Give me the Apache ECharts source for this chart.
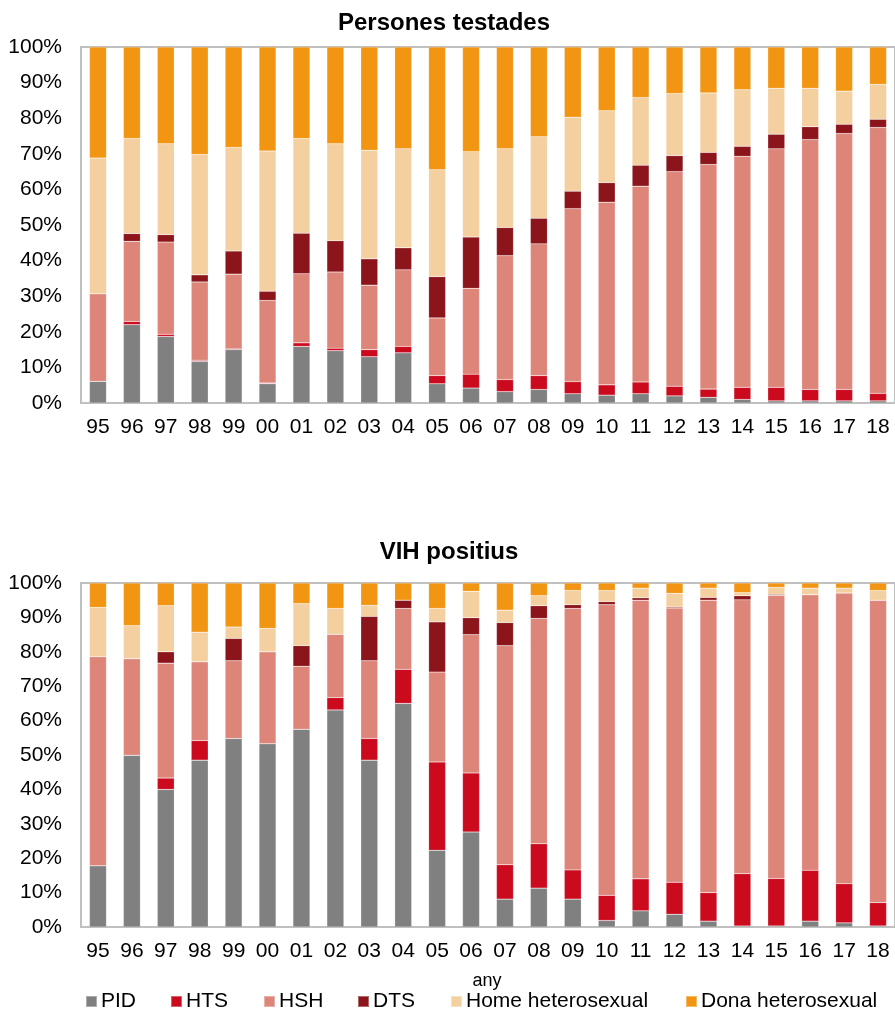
<!DOCTYPE html>
<html>
<head>
<meta charset="utf-8">
<script src="https://cdn.jsdelivr.net/npm/echarts@6/dist/echarts.min.js"></script>
<style>
  html, body {margin: 0; padding: 0; background: #fff;}
  #chart {width: 895px; height: 1012px;}
</style>
</head>
<body>
<div id="chart"></div>
<script>
var years = ['95','96','97','98','99','00','01','02','03','04','05','06','07','08','09','10','11','12','13','14','15','16','17','18'];
var yTicks = [0, 10, 20, 30, 40, 50, 60, 70, 80, 90, 100];
var groupNames = ['PID', 'HTS', 'HSH', 'DTS', 'Home heterosexual', 'Dona heterosexual'];
var groupColors = ['#808080', '#cc0a1e', '#de857a', '#8b151b', '#f4cfa0', '#f29513'];

// Persones testades (%)
var testPID  = [6.1, 22.0, 18.7, 11.7, 15.0, 5.4, 15.9, 14.7, 13.0, 14.1, 5.4, 4.2, 3.2, 3.8, 2.6, 2.2, 2.6, 2.0, 1.6, 1.0, 0.6, 0.6, 0.6, 0.6];
var testHTS  = [0.0, 0.9, 0.6, 0.3, 0.2, 0.2, 1.0, 0.7, 2.0, 1.8, 2.3, 3.9, 3.4, 3.9, 3.4, 2.9, 3.3, 2.7, 2.3, 3.4, 3.8, 3.2, 3.2, 2.1];
var testHSH  = [24.6, 22.5, 25.9, 22.0, 21.0, 23.2, 19.4, 21.4, 18.1, 21.5, 16.2, 24.1, 34.8, 37.0, 48.6, 51.3, 55.0, 60.3, 63.1, 64.9, 67.0, 70.2, 71.9, 74.7];
var testDTS  = [0.0, 2.2, 2.1, 2.0, 6.5, 2.6, 11.4, 8.8, 7.4, 6.2, 11.6, 14.4, 7.9, 7.2, 4.9, 5.5, 5.9, 4.5, 3.4, 2.8, 4.1, 3.6, 2.6, 2.3];
var testHome = [38.1, 26.7, 25.5, 33.8, 29.1, 39.4, 26.6, 27.2, 30.5, 27.8, 30.0, 24.0, 22.1, 22.9, 20.8, 20.2, 19.0, 17.4, 16.7, 15.9, 12.9, 10.8, 9.3, 9.8];
var testDona = [31.2, 25.7, 27.2, 30.2, 28.2, 29.2, 25.7, 27.2, 29.0, 28.6, 34.5, 29.4, 28.6, 25.2, 19.7, 17.9, 14.2, 13.1, 12.9, 12.0, 11.6, 11.6, 12.4, 10.5];

// VIH positius (%)
var posPID  = [17.8, 49.9, 40.0, 48.5, 54.8, 53.3, 57.5, 63.1, 48.5, 65.0, 22.3, 27.6, 8.1, 11.3, 8.1, 1.9, 4.7, 3.7, 1.7, 0.3, 0.3, 1.7, 1.2, 0.3];
var posHTS  = [0.0, 0.0, 3.3, 5.7, 0.0, 0.0, 0.0, 3.6, 6.3, 9.9, 25.7, 17.2, 10.0, 12.9, 8.5, 7.3, 9.3, 9.3, 8.3, 15.2, 13.8, 14.8, 11.4, 6.8];
var posHSH  = [60.8, 28.1, 33.4, 22.9, 22.6, 26.7, 18.3, 18.4, 22.6, 17.7, 26.1, 40.2, 63.7, 65.5, 76.0, 84.5, 81.0, 79.7, 85.0, 79.6, 82.3, 80.1, 84.5, 87.9];
var posDTS  = [0.0, 0.0, 3.3, 0.0, 6.5, 0.0, 6.0, 0.0, 12.9, 2.4, 14.6, 4.9, 6.7, 3.7, 1.1, 0.9, 0.7, 0.3, 0.8, 1.2, 0.3, 0.0, 0.0, 0.0];
var posHome = [14.3, 9.6, 13.4, 8.6, 3.3, 6.8, 12.2, 7.5, 3.2, 0.0, 3.9, 7.7, 3.6, 2.9, 4.1, 3.2, 2.8, 4.0, 2.7, 0.9, 2.0, 1.9, 1.4, 2.8];
var posDona = [7.1, 12.4, 6.6, 14.3, 12.8, 13.2, 6.0, 7.4, 6.5, 5.0, 7.4, 2.4, 7.9, 3.7, 2.2, 2.2, 1.5, 3.0, 1.5, 2.8, 1.3, 1.5, 1.5, 2.2];

var testData = [testPID, testHTS, testHSH, testDTS, testHome, testDona];
var posData = [posPID, posHTS, posHSH, posDTS, posHome, posDona];

var fontFamily = "'Liberation Sans', Arial, sans-serif";
var myChart = echarts.init(document.getElementById('chart'));

function makeSeries(dataList, idx, stackName) {
  return dataList.map(function (d, i) {
    return {
      name: groupNames[i],
      type: 'bar',
      stack: stackName,
      xAxisIndex: idx,
      yAxisIndex: idx,
      barWidth: 17,
      color: groupColors[i],
      itemStyle: {borderColor: 'rgba(255,255,255,0.35)', borderWidth: 0.5},
      data: d
    };
  });
}

function xAxisFor(idx) {
  return {
    type: 'category',
    gridIndex: idx,
    data: years,
    axisLine: {show: false},
    axisTick: {show: false},
    axisLabel: {color: '#000', fontSize: 21, fontFamily: fontFamily, margin: 14, interval: 0}
  };
}

function yAxisFor(idx) {
  return {
    type: 'value',
    gridIndex: idx,
    min: yTicks[0],
    max: yTicks[yTicks.length - 1],
    interval: 10,
    splitLine: {show: false},
    axisLine: {show: false},
    axisTick: {show: false},
    axisLabel: {color: '#000', fontSize: 21, fontFamily: fontFamily, margin: 19, formatter: '{value}%'}
  };
}

// legend items sit at fixed slots like the original
var legendLefts = [85, 170, 263, 357, 450, 685];
var legends = groupNames.map(function (name, i) {
  return {
    data: [name],
    left: legendLefts[i],
    top: 991,
    padding: 0,
    icon: 'rect',
    itemWidth: 11,
    itemHeight: 11,
    itemGap: 0,
    selectedMode: false,
    textStyle: {color: '#000', fontSize: 21, fontFamily: fontFamily, padding: [0, 0, 0, -1]}
  };
});

myChart.setOption({
  animation: false,
  title: [
    {text: 'Persones testades', left: 439, top: 6, textAlign: 'center',
      textStyle: {fontSize: 24, fontWeight: 'bold', color: '#000', fontFamily: fontFamily}},
    {text: 'VIH positius', left: 444, top: 535, textAlign: 'center',
      textStyle: {fontSize: 24, fontWeight: 'bold', color: '#000', fontFamily: fontFamily}},
    {text: 'any', left: 482, top: 967, textAlign: 'center',
      textStyle: {fontSize: 18, fontWeight: 'normal', color: '#000', fontFamily: fontFamily}}
  ],
  legend: legends,
  grid: [
    {left: 81, right: -7, top: 47, height: 356, show: true, borderColor: '#c0c0c0', borderWidth: 2, backgroundColor: 'transparent'},
    {left: 81, right: -7, top: 583, height: 344, show: true, borderColor: '#c0c0c0', borderWidth: 2, backgroundColor: 'transparent'}
  ],
  xAxis: [xAxisFor(0), xAxisFor(1)],
  yAxis: [yAxisFor(0), yAxisFor(1)],
  series: makeSeries(testData, 0, 'test').concat(makeSeries(posData, 1, 'pos'))
});
</script>
</body>
</html>
